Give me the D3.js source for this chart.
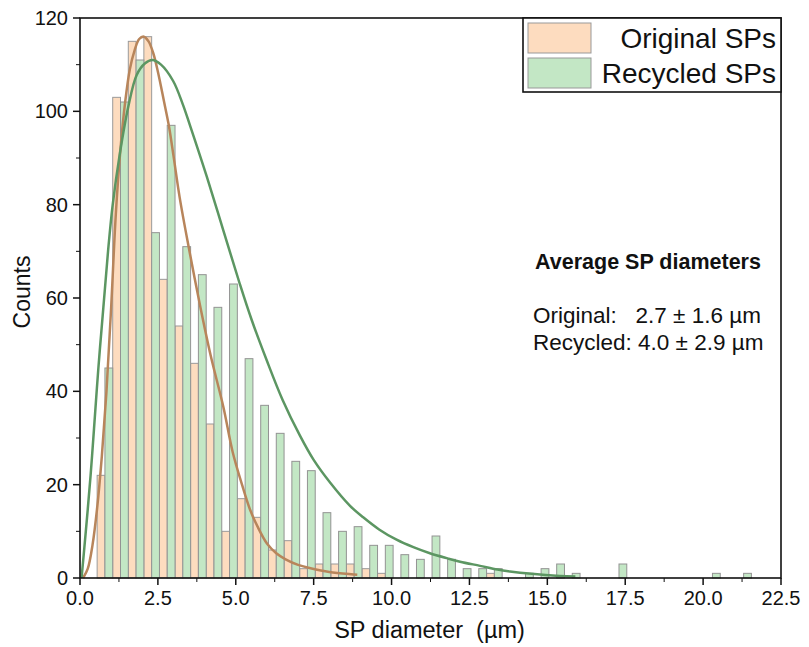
<!DOCTYPE html>
<html lang="en">
  <head>
    <meta charset="utf-8" />
    <title>SP diameter histogram</title>
    <script src="https://cdnjs.cloudflare.com/ajax/libs/d3/7.8.5/d3.min.js"></script>
    <style type="text/css">
      html, body { margin: 0; padding: 0; background: #fff; overflow: hidden; }
      svg { display: block; }
      text { font-family: "Liberation Sans", Arial, sans-serif; fill: #111; }
      .axis path, .axis line { stroke: #111; }
    </style>
  </head>

  <body>
    <div id="chart"></div>

    <script>
      // Histogram bins (left edge, width 0.5 um)
      const binStart = [0.55, 1.05, 1.55, 2.05, 2.55, 3.05, 3.55, 4.05, 4.55, 5.05,
        5.55, 6.05, 6.55, 7.05, 7.55, 8.05, 8.55, 9.05, 9.55, 10.05,
        10.55, 11.05, 11.55, 12.05, 12.55, 13.05, 13.55, 14.05, 14.55, 15.05,
        15.55, 16.05, 16.55, 17.05, 17.55, 18.05, 18.55, 19.05, 19.55, 20.05,
        20.55, 21.05];
      const originalCounts = [22, 103, 115, 116, 64, 54, 46, 33, 10, 17,
        13, 6, 8, 2, 3, 3, 3, 2, 1, 0,
        0, 0, 0, 0, 0, 1, 0, 0, 0, 0,
        0, 0, 0, 0, 0, 0, 0, 0, 0, 0,
        0, 0];
      const recycledCounts = [45, 102, 111, 74, 97, 71, 65, 58, 63, 47,
        37, 31, 25, 23, 14, 10, 11, 7, 7, 5,
        4, 9, 4, 2, 2, 2, 0, 1, 2, 3,
        1, 0, 0, 3, 0, 0, 0, 0, 0, 1,
        0, 1];

      // Fitted curves, points
      const originalFitX = [0.1, 0.25, 0.4, 0.55, 0.7, 0.85, 1.0, 1.15, 1.3, 1.45, 1.6, 1.75, 1.9, 2.05,
        2.2, 2.35, 2.5, 2.7, 2.85, 3.0, 3.2, 3.5, 3.85, 4.2, 4.6, 4.9, 5.2, 5.45, 5.7, 6.0,
        6.3, 6.6, 7.0, 7.4, 8.0, 8.7, 8.9];
      const originalFitY = [0, 2, 7, 15, 26, 40, 58, 78, 92, 102, 109, 113, 115.5, 116,
        115, 112.5, 108.5, 102, 97, 90.5, 81.5, 70.5, 58.5, 47.5, 36.7, 27, 20, 14.8, 11, 7.4,
        5.3, 4, 2.8, 2.1, 1.3, 0.8, 0.7];
      const recycledFitX = [0.05, 0.2, 0.34, 0.45, 0.59, 0.75, 0.9, 1.05, 1.28, 1.55, 1.82, 2.09, 2.32,
        2.6, 2.99, 3.3, 3.53, 4.07, 4.6, 5.13, 5.5, 5.99, 6.5, 7.06, 7.5, 8.02, 8.66, 9.09,
        9.6, 10.16, 10.7, 11.23, 11.8, 12.2, 12.84, 13.4, 13.8, 14.5, 15.4, 15.9];
      const recycledFitY = [0, 11, 22, 32, 45, 58, 70, 80, 91, 101, 107.8, 110.3, 111,
        110, 106.5, 101.5, 97, 86, 74.5, 63, 55.5, 46.7, 38.2, 30.5, 25.3, 20.5, 15.5, 13,
        10.4, 8.2, 6.6, 5.3, 4.2, 3.5, 2.6, 1.8, 1.4, 0.9, 0.45, 0.3];

      const xTicks = [0, 2.5, 5, 7.5, 10, 12.5, 15, 17.5, 20, 22.5];
      const yTicks = [0, 20, 40, 60, 80, 100, 120];
      const seriesNames = ['Original SPs', 'Recycled SPs'];
      const noteLines = ['Original:   2.7 \u00b1 1.6 \u00b5m', 'Recycled: 4.0 \u00b1 2.9 \u00b5m'];

      const binWidth = 0.5;
      const fillColors = ['#fddcbf', '#c3e7c5'];
      const lineColors = ['#b8855b', '#5c9662'];

      const margin = { top: 18, right: 28, bottom: 69, left: 80 };
      const outerWidth = 809;
      const outerHeight = 647;
      const innerWidth = outerWidth - margin.left - margin.right;
      const innerHeight = outerHeight - margin.top - margin.bottom;

      const root = d3.select('#chart').append('svg')
        .attr('width', outerWidth)
        .attr('height', outerHeight);

      const svg = root.append('g')
        .attr('transform', `translate(${margin.left},${margin.top})`);

      const x = d3.scaleLinear().domain([0, 22.5]).range([0, innerWidth]);
      const y = d3.scaleLinear().domain([0, 120]).range([innerHeight, 0]);

      // Bars, side by side inside each bin
      const bins = binStart.map((s, i) => ({ s, o: originalCounts[i], r: recycledCounts[i] }));

      svg.selectAll('.bar-o')
        .data(bins.filter(d => d.o > 0))
        .join('rect')
        .attr('class', 'bar-o')
        .attr('x', d => x(d.s))
        .attr('width', d => x(d.s + binWidth / 2) - x(d.s))
        .attr('y', d => y(d.o))
        .attr('height', d => y(0) - y(d.o))
        .attr('fill', fillColors[0])
        .attr('stroke', '#9a9a9a')
        .attr('stroke-width', 1);

      svg.selectAll('.bar-r')
        .data(bins.filter(d => d.r > 0))
        .join('rect')
        .attr('class', 'bar-r')
        .attr('x', d => x(d.s + binWidth / 2))
        .attr('width', d => x(d.s + binWidth) - x(d.s + binWidth / 2))
        .attr('y', d => y(d.r))
        .attr('height', d => y(0) - y(d.r))
        .attr('fill', fillColors[1])
        .attr('stroke', '#939393')
        .attr('stroke-width', 1);

      // Fit curves
      const line = d3.line()
        .curve(d3.curveCatmullRom.alpha(0.5))
        .x(d => x(d[0]))
        .y(d => y(d[1]));

      svg.append('path')
        .datum(originalFitX.map((v, i) => [v, originalFitY[i]]))
        .attr('fill', 'none')
        .attr('stroke', lineColors[0])
        .attr('stroke-width', 2.5)
        .attr('d', line);

      svg.append('path')
        .datum(recycledFitX.map((v, i) => [v, recycledFitY[i]]))
        .attr('fill', 'none')
        .attr('stroke', lineColors[1])
        .attr('stroke-width', 2.5)
        .attr('d', line);

      // Axes: tick marks only, labels placed by hand below
      const xMinor = d3.range(0, 22.51, 1.25).filter(v => !xTicks.includes(v));
      const yMinor = d3.range(10, 120, 20);

      const xAxisG = svg.append('g')
        .attr('class', 'axis')
        .attr('transform', `translate(0,${innerHeight})`);
      xAxisG.selectAll('.minor')
        .data(xMinor)
        .join('line')
        .attr('x1', d => x(d)).attr('x2', d => x(d))
        .attr('y1', 0).attr('y2', 4)
        .attr('stroke-width', 1);
      xAxisG.selectAll('.major')
        .data(xTicks)
        .join('line')
        .attr('x1', d => x(d)).attr('x2', d => x(d))
        .attr('y1', 0).attr('y2', 7)
        .attr('stroke-width', 1.5);
      xAxisG.selectAll('.xlabel')
        .data(xTicks)
        .join('text')
        .attr('class', 'xlabel')
        .attr('x', d => x(d))
        .attr('y', 27)
        .attr('text-anchor', 'middle')
        .style('font-size', '20px')
        .text(d3.format('.1f'));

      const yAxisG = svg.append('g')
        .attr('class', 'axis');
      yAxisG.selectAll('.minor')
        .data(yMinor)
        .join('line')
        .attr('y1', d => y(d)).attr('y2', d => y(d))
        .attr('x1', 0).attr('x2', -4)
        .attr('stroke-width', 1);
      yAxisG.selectAll('.major')
        .data(yTicks)
        .join('line')
        .attr('y1', d => y(d)).attr('y2', d => y(d))
        .attr('x1', 0).attr('x2', -7)
        .attr('stroke-width', 1.5);
      yAxisG.selectAll('.ylabel')
        .data(yTicks)
        .join('text')
        .attr('class', 'ylabel')
        .attr('x', -12)
        .attr('y', d => y(d) + 7)
        .attr('text-anchor', 'end')
        .style('font-size', '20px')
        .text(d => d);

      // Frame
      svg.append('rect')
        .attr('x', 0)
        .attr('y', 0)
        .attr('width', innerWidth)
        .attr('height', innerHeight)
        .attr('fill', 'none')
        .attr('stroke', '#111')
        .attr('stroke-width', 1.6);

      // Axis titles
      root.append('text')
        .attr('x', margin.left + innerWidth / 2 - 1)
        .attr('y', 638)
        .attr('text-anchor', 'middle')
        .attr('xml:space', 'preserve')
        .style('white-space', 'pre')
        .style('font-size', '23.5px')
        .text('SP diameter  (\u00b5m)');

      root.append('text')
        .attr('transform', 'translate(30,292) rotate(-90)')
        .attr('text-anchor', 'middle')
        .style('font-size', '23px')
        .text('Counts');

      // Legend
      const legend = svg.append('g')
        .attr('transform', `translate(${x(22.5) - 258},0)`);

      legend.append('rect')
        .attr('width', 258)
        .attr('height', 74)
        .attr('fill', '#fff')
        .attr('stroke', '#111')
        .attr('stroke-width', 1.6);

      seriesNames.forEach((name, i) => {
        legend.append('rect')
          .attr('x', 5)
          .attr('y', 5 + i * 35)
          .attr('width', 63)
          .attr('height', 30)
          .attr('fill', fillColors[i])
          .attr('stroke', '#999');
        legend.append('text')
          .attr('x', 253)
          .attr('y', 30 + i * 35)
          .attr('text-anchor', 'end')
          .style('font-size', '28px')
          .text(name);
      });

      // Annotation
      root.append('text')
        .attr('x', 648)
        .attr('y', 269)
        .attr('text-anchor', 'middle')
        .style('font-size', '21.5px')
        .style('font-weight', 'bold')
        .text('Average SP diameters');

      noteLines.forEach((t, i) => {
        root.append('text')
          .attr('x', 533)
          .attr('y', 323 + i * 27)
          .style('font-size', '22.5px')
          .style('white-space', 'pre')
          .attr('xml:space', 'preserve')
          .text(t);
      });
    </script>
  </body>
</html>
